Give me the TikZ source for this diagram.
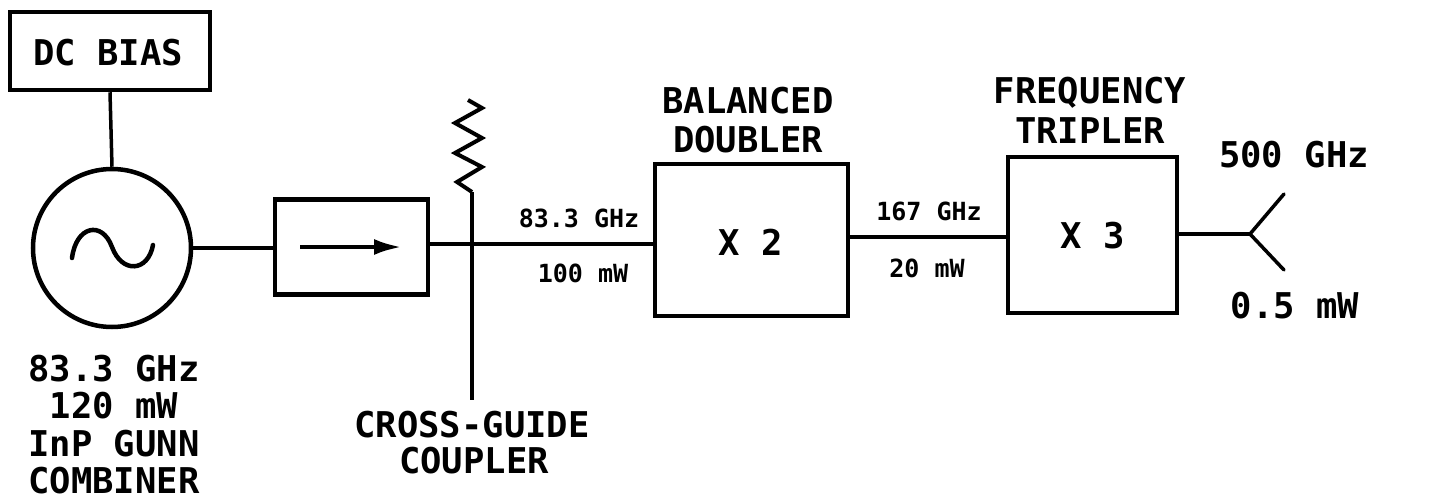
\documentclass[tikz,border=0pt]{standalone}
\usepackage{fontspec}
\setmonofont{DejaVu Sans Mono}
\usetikzlibrary{arrows.meta}
\begin{document}
\begin{tikzpicture}[x=1pt,y=-1pt,
  big/.style={font=\ttfamily\bfseries\fontsize{35.5}{39}\selectfont, inner sep=0pt, anchor=base},
  small/.style={font=\ttfamily\bfseries\fontsize{25}{28}\selectfont, inner sep=0pt, anchor=base},
  blk/.style={draw, line width=4.5pt, inner sep=0pt},
  wire/.style={line width=3.5pt}]
\useasboundingbox (0,0) rectangle (1452,501);
% DC bias
\node[blk, minimum width=200pt, minimum height=78pt] (dc) at (110,51) {};
\node[big] (dct) at (108,65) {DC BIAS};
% Gunn oscillator
\node[draw, circle, line width=4.5pt, minimum size=158pt, inner sep=0pt] (osc) at (112,248) {};
\draw[wire] (dc.south) -- (osc.north);
\draw[line width=4.5pt, line cap=round] (72,258) .. controls (76,226) and (102,220) .. (112,247) .. controls (122,274) and (148,272) .. (153,245);
% isolator
\node[blk, minimum width=153pt, minimum height=95pt] (iso) at (351.5,247) {};
\coordinate (arrS) at (300,247);
\coordinate (arrE) at (402,247);
\draw[line width=4.5pt, -{Latex[length=28pt,width=16pt]}] (arrS) -- (arrE);
\draw[wire] (osc.east) -- (iso.west |- osc.east);
% coupler
\coordinate (cgtop) at (472,192);
\coordinate (cgbot) at (472,400);
\draw[wire] (cgtop) -- (cgbot);
\draw[line width=4pt, line join=miter] (cgtop) -- (457,182) -- (482,167) -- (455,153) -- (482,138) -- (455,123) -- (482,108) -- (468,100);
% doubler
\node[blk, minimum width=193pt, minimum height=152pt] (dbl) at (751.5,240) {};
\node[big] (x2) at (751,255) {X 2};
\draw[wire] (iso.east |- 0,244) -- (dbl.west |- 0,244);
% tripler
\node[blk, minimum width=169pt, minimum height=156pt] (trp) at (1092.5,235) {};
\node[big] (x3) at (1093,248) {X 3};
\draw[wire] (dbl.east |- 0,237) -- (trp.west |- 0,237);
% horn
\coordinate (hj) at (1250,234);
\coordinate (hu) at (1284,194);
\coordinate (hd) at (1284,270);
\draw[wire] (trp.east |- hj) -- (hj);
\draw[wire, line cap=round] (hu) -- (hj) -- (hd);
% labels
\node[big] at (114,381) {83.3 GHz};
\node[big] at (114,418) {120 mW};
\node[big] at (114,456) {InP GUNN};
\node[big] at (114,493) {COMBINER};
\node[big] at (472,437) {CROSS-GUIDE};
\node[big] at (474,473) {COUPLER};
\node[big] at (748,113) {BALANCED};
\node[big] at (748,152) {DOUBLER};
\node[big] at (1090,103) {FREQUENCY};
\node[big] at (1090,143) {TRIPLER};
\node[big] at (1294,167) {500 GHz};
\node[big] at (1295,318) {0.5 mW};
\node[small] at (579,227) {83.3 GHz};
\node[small] at (583,282) {100 mW};
\node[small] at (929,220) {167 GHz};
\node[small] at (927,277) {20 mW};
\end{tikzpicture}
\end{document}
